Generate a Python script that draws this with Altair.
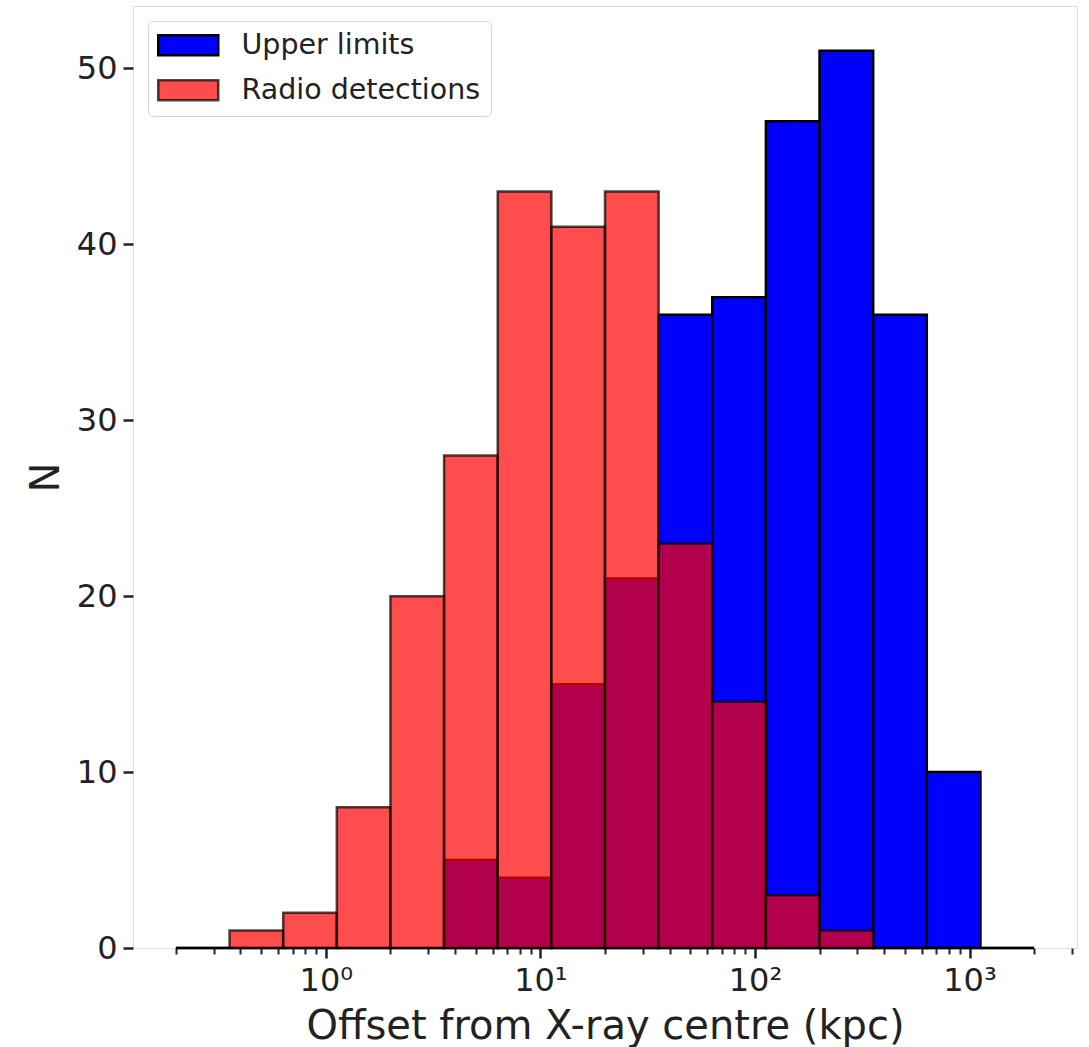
import altair as alt
import pandas as pd

# Bin edges (kpc), 4 log bins per decade from 0.2 to 2000
bin_edges = [0.2, 0.3557, 0.6325, 1.1247, 2.0, 3.5566, 6.3246, 11.247, 20.0,
             35.566, 63.246, 112.47, 200.0, 355.66, 632.46, 1124.7, 2000.0]

upper_limits = [0, 0, 0, 0, 0, 5, 4, 15, 21, 36, 37, 47, 51, 36, 10, 0]
radio_detections = [0, 1, 2, 8, 20, 28, 43, 41, 43, 23, 14, 3, 1, 0, 0, 0]

series_names = ["Upper limits", "Radio detections"]

major_ticks = [1, 10, 100, 1000]
minor_ticks = [0.2, 0.3, 0.4, 0.5, 0.6, 0.7, 0.8, 0.9,
               2, 3, 4, 5, 6, 7, 8, 9,
               20, 30, 40, 50, 60, 70, 80, 90,
               200, 300, 400, 500, 600, 700, 800, 900,
               2000, 3000]

rows = []
for name, counts in zip(series_names, [upper_limits, radio_detections]):
    for i, c in enumerate(counts):
        rows.append({"series": name, "x0": bin_edges[i], "x1": bin_edges[i + 1], "count": c})
df = pd.DataFrame(rows)

FONT = "DejaVu Sans"
legend_kw = dict(
    title=None,
    orient="top-left",
    offset=15,
    padding=10,
    fillColor="white",
    strokeColor="#d5d5d5",
    cornerRadius=5,
    symbolType="M-1.4,-1H4.6V1H-1.4Z",
    symbolSize=400,
    symbolStrokeWidth=2.5,
    labelFont=FONT,
    labelFontSize=28.5,
    labelColor="#222222",
    labelOffset=55,
    labelLimit=0,
    rowPadding=14,
)

tick_test = "indexof([1,10,100,1000], datum.value) >= 0"

x_axis = alt.Axis(
    title="Offset from X-ray centre (kpc)",
    values=major_ticks + minor_ticks,
    labelExpr="datum.value == 1 ? '10⁰' : datum.value == 10 ? '10¹' : datum.value == 100 ? '10²' : datum.value == 1000 ? '10³' : ''",
    tickSize={"condition": {"test": tick_test, "value": 10}, "value": 6},
    tickWidth={"condition": {"test": tick_test, "value": 2.5}, "value": 2},
    tickColor="#222222",
    domain=False,
    grid=False,
    labelFont=FONT,
    labelFontSize=32,
    labelColor="#222222",
    labelPadding=7,
    labelFlush=False,
    labelOverlap=False,
    titleFont=FONT,
    titleFontSize=40,
    titleFontWeight="normal",
    titleColor="#222222",
    titlePadding=10,
)

y_axis = alt.Axis(
    title="N",
    values=[0, 10, 20, 30, 40, 50],
    tickSize=10,
    tickWidth=2.5,
    tickColor="#222222",
    domain=False,
    grid=False,
    labelFont=FONT,
    labelFontSize=32,
    labelColor="#222222",
    labelPadding=6,
    titleFont=FONT,
    titleFontSize=40,
    titleFontWeight="normal",
    titleColor="#222222",
    titlePadding=10,
)

chart = alt.Chart(df).mark_rect(strokeWidth=2.5).encode(
    x=alt.X("x0:Q", scale=alt.Scale(type="log", domain=[0.1262, 3170], nice=False), axis=x_axis),
    x2="x1:Q",
    y=alt.Y("count:Q", scale=alt.Scale(domain=[0, 53.55], nice=False, zero=True), axis=y_axis),
    y2=alt.datum(0),
    fill=alt.Fill("series:N",
                  scale=alt.Scale(domain=series_names, range=["#0000ff", "rgba(255,0,0,0.7)"]),
                  legend=alt.Legend(**legend_kw)),
    stroke=alt.Stroke("series:N",
                      scale=alt.Scale(domain=series_names, range=["#000000", "rgba(0,0,0,0.7)"]),
                      legend=alt.Legend(**legend_kw)),
).properties(
    width=944,
    height=942,
    autosize=alt.AutoSizeParams(type="none"),
    padding={"left": 133, "top": 6, "right": 12, "bottom": 99},
).configure_view(
    stroke="#333333",
    strokeWidth=2,
).configure(background="white")

chart.save("out.html", embed_options={"renderer": "svg", "actions": False})
